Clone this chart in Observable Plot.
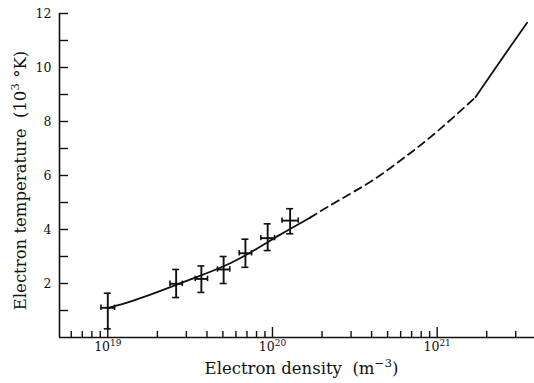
<!DOCTYPE html>
<html><head><meta charset="utf-8">
<script src="https://cdn.jsdelivr.net/npm/d3@7"></script>
<script src="https://cdn.jsdelivr.net/npm/@observablehq/plot@0.6"></script>
<style>html,body{margin:0;padding:0;background:#fff;} svg{display:block}</style>
</head><body><div id="chart"></div>
<script>
// Measured points (electron density m^-3, electron temperature 10^3 K)
const density = [1.0e19, 2.6e19, 3.7e19, 5.05e19, 6.85e19, 9.35e19, 1.28e20];
const temperature = [1.10, 1.99, 2.17, 2.52, 3.12, 3.68, 4.33];
const tempLow = [0.32, 1.48, 1.67, 2.00, 2.60, 3.22, 3.84];
const tempHigh = [1.64, 2.52, 2.65, 3.00, 3.64, 4.21, 4.77];
const densityFactor = [1.10, 1.09, 1.09, 1.09, 1.09, 1.10, 1.12];

// Fitted curve (solid), extrapolation (dashed), upper curve (solid)
const fitDensity = [1.0e19, 1.413e19, 1.995e19, 2.818e19, 3.981e19, 5.623e19, 7.943e19, 1.122e20, 1.683e20];
const fitTemp = [1.09, 1.36, 1.68, 2.03, 2.38, 2.77, 3.27, 3.82, 4.43];
const extrapDensity = [1.683e20, 2.512e20, 3.981e20, 6.31e20, 1.0e21, 1.71e21];
const extrapTemp = [4.43, 5.07, 5.79, 6.66, 7.63, 8.90];
const upperDensity = [1.71e21, 2.455e21, 3.516e21];
const upperTemp = [8.90, 10.30, 11.66];

// Axes
const xMinorTicks = [6e18, 7e18, 8e18, 9e18,
  2e19, 3e19, 4e19, 5e19, 6e19, 7e19, 8e19, 9e19,
  2e20, 3e20, 4e20, 5e20, 6e20, 7e20, 8e20, 9e20,
  2e21, 3e21];
const xMajorTicks = [1e19, 1e20, 1e21];
const yTicks = [1, 2, 3, 4, 5, 6, 7, 8, 9, 10, 11, 12];
const xDomain = [5.09e18, 3.9e21];
const yDomain = [0, 12];
const xTitle = "Electron density  (m^{−3})";
const yTitle = "Electron temperature  (10^{3} °K)";

const pts = density.map((d, i) => ({
  n: d, T: temperature[i], lo: tempLow[i], hi: tempHigh[i], f: densityFactor[i]
}));
const fit = fitDensity.map((d, i) => ({n: d, T: fitTemp[i]}));
const extrap = extrapDensity.map((d, i) => ({n: d, T: extrapTemp[i]}));
const upper = upperDensity.map((d, i) => ({n: d, T: upperTemp[i]}));

const capF = Math.pow(10, 3.5 / 164.7);
const capH = 0.1;
const ink = "#111";

const chart = Plot.plot({
  width: 534, height: 383,
  marginLeft: 59, marginRight: 0, marginTop: 13, marginBottom: 46,
  style: {fontFamily: "'DejaVu Serif', serif", background: "#fff", color: ink},
  x: {type: "log", domain: xDomain, label: null},
  y: {domain: yDomain, label: null},
  marks: [
    Plot.ruleY([0], {stroke: ink, strokeWidth: 1.6}),
    Plot.ruleX([xDomain[0]], {stroke: ink, strokeWidth: 1.6}),
    Plot.axisX(xMinorTicks, {tickSize: -6, tickFormat: () => "", strokeWidth: 1.4, stroke: ink, label: null}),
    Plot.axisX(xMajorTicks, {tickSize: -10, tickPadding: 15, fontSize: 12.5, strokeWidth: 1.4, stroke: ink,
      fill: ink, label: null, tickFormat: d => "10^{" + Math.round(Math.log10(d)) + "}"}),
    Plot.axisY(yTicks, {tickSize: -9, tickPadding: 17, fontSize: 12.5, strokeWidth: 1.4, stroke: ink, fill: ink,
      label: null, tickFormat: d => d % 2 === 0 ? String(d) : ""}),
    // curves
    Plot.line(fit, {x: "n", y: "T", curve: "natural", stroke: ink, strokeWidth: 1.8}),
    Plot.line(extrap, {x: "n", y: "T", curve: "natural", stroke: ink, strokeWidth: 1.8, strokeDasharray: "8,5"}),
    Plot.line(upper, {x: "n", y: "T", curve: "natural", stroke: ink, strokeWidth: 1.8}),
    // error bars
    Plot.ruleX(pts, {x: "n", y1: "lo", y2: "hi", stroke: ink, strokeWidth: 1.9}),
    Plot.ruleY(pts, {y: "T", x1: d => d.n / d.f, x2: d => d.n * d.f, stroke: ink, strokeWidth: 1.9}),
    Plot.ruleY(pts, {y: "lo", x1: d => d.n / capF, x2: d => d.n * capF, stroke: ink, strokeWidth: 1.6}),
    Plot.ruleY(pts, {y: "hi", x1: d => d.n / capF, x2: d => d.n * capF, stroke: ink, strokeWidth: 1.6}),
    Plot.ruleX(pts, {x: d => d.n / d.f, y1: d => d.T - capH, y2: d => d.T + capH, stroke: ink, strokeWidth: 1.6}),
    Plot.ruleX(pts, {x: d => d.n * d.f, y1: d => d.T - capH, y2: d => d.T + capH, stroke: ink, strokeWidth: 1.6}),
    // titles
    Plot.text([xTitle], {frameAnchor: "bottom", text: d => d, dx: 4.5, dy: 36, lineAnchor: "bottom",
      textAnchor: "middle", fontSize: 16.5, fill: ink}),
    Plot.text([yTitle], {frameAnchor: "left", text: d => d, rotate: -90, dx: -33.5, dy: 5, lineAnchor: "bottom",
      textAnchor: "middle", fontSize: 16.5, fill: ink})
  ]
});
document.getElementById("chart").appendChild(chart);

// superscripts
d3.select(chart).selectAll("text").each(function () {
  const t = this.textContent;
  const m = t.match(/^(.*?)\^\{(.+?)\}(.*)$/);
  if (!m) return;
  const fs = parseFloat(getComputedStyle(this).fontSize) || 13;
  const sel = d3.select(this);
  sel.text(null);
  sel.append("tspan").text(m[1]);
  sel.append("tspan").attr("font-size", fs * 0.72).attr("dy", -fs * 0.42).text(m[2]);
  if (m[3]) sel.append("tspan").attr("dy", fs * 0.42).text(m[3]);
});
</script></body></html>
